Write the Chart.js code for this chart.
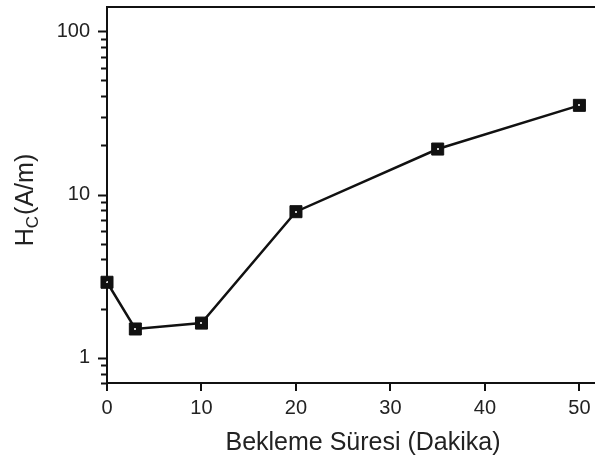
<!DOCTYPE html>
<html>
<head>
<meta charset="utf-8">
<script src="https://cdn.jsdelivr.net/npm/chart.js@4/dist/chart.umd.min.js"></script>
<style>
  html, body { margin: 0; padding: 0; background: #fff; }
  #wrap { width: 595px; height: 459px; }
</style>
</head>
<body>
<div id="wrap"><canvas id="hcChart" width="595" height="459"></canvas></div>
<script>
// bekleme suresi (dakika) vs Hc (A/m)
const times = [0, 3, 10, 20, 35, 50];
const hcValues = [2.9, 1.5, 1.63, 7.85, 19.0, 35.2];
const xTickLabels = [0, 10, 20, 30, 40, 50];
const yTickLabels = [1, 10, 100];

const FONT = '"Liberation Sans", Arial, sans-serif';
const INK = '#111';

// tick marks drawn from the scales, long for decades and short between
const tickMarks = {
  id: 'tickMarks',
  afterDraw(chart) {
    const ctx = chart.ctx;
    const xs = chart.scales.x, ys = chart.scales.y;
    const area = chart.chartArea;
    ctx.save();
    ctx.strokeStyle = INK;
    ctx.lineWidth = 2;
    ctx.beginPath();
    for (let d = 0.1; d <= 100; d *= 10) {
      for (let m = 1; m <= 9; m++) {
        const v = m * d;
        if (v < ys.min || v > ys.max) continue;
        const py = Math.round(ys.getPixelForValue(v)) + 0.5;
        const len = m === 1 ? 9 : 6;
        ctx.moveTo(area.left, py);
        ctx.lineTo(area.left - len, py);
      }
    }
    xTickLabels.forEach(v => {
      const px = Math.round(xs.getPixelForValue(v));
      ctx.moveTo(px, area.bottom);
      ctx.lineTo(px, area.bottom + 8);
    });
    ctx.stroke();

    // top frame line
    ctx.beginPath();
    ctx.moveTo(area.left - 1, area.top);
    ctx.lineTo(area.right, area.top);
    ctx.stroke();

    // axis titles
    ctx.fillStyle = '#222';
    ctx.font = '25px ' + FONT;
    ctx.textAlign = 'center';
    ctx.textBaseline = 'alphabetic';
    ctx.fillText('Bekleme Süresi (Dakika)', 363, 450);

    ctx.translate(33, 200);
    ctx.rotate(-Math.PI / 2);
    ctx.textAlign = 'left';
    const hW = ctx.measureText('H').width;
    ctx.font = '17px ' + FONT;
    const cW = ctx.measureText('C').width;
    ctx.font = '25px ' + FONT;
    const restW = ctx.measureText('(A/m)').width;
    const total = hW + cW + 1 + restW;
    const x0 = -total / 2;
    ctx.fillText('H', x0, 0);
    ctx.font = '17px ' + FONT;
    ctx.fillText('C', x0 + hW, 5);
    ctx.font = '25px ' + FONT;
    ctx.fillText('(A/m)', x0 + hW + cW + 1, 0);
    ctx.restore();
  }
};

// little light dot in the middle of each marker
const markerDots = {
  id: 'markerDots',
  afterDatasetsDraw(chart) {
    const ctx = chart.ctx;
    const meta = chart.getDatasetMeta(0);
    ctx.save();
    ctx.fillStyle = '#ccc';
    meta.data.forEach(pt => {
      ctx.fillRect(Math.round(pt.x) - 1, Math.round(pt.y) - 1, 2, 2);
    });
    ctx.restore();
  }
};

new Chart(document.getElementById('hcChart'), {
  type: 'line',
  data: {
    datasets: [{
      data: times.map((t, i) => ({ x: t, y: hcValues[i] })),
      borderColor: INK,
      backgroundColor: INK,
      borderWidth: 2.5,
      pointStyle: 'rect',
      pointRadius: 8.5,
      pointBackgroundColor: INK,
      pointBorderColor: INK,
      pointBorderWidth: 1,
      tension: 0,
      clip: false
    }]
  },
  options: {
    responsive: false,
    animation: false,
    events: [],
    layout: { autoPadding: false, padding: { top: 7, right: 0, left: 0, bottom: 0 } },
    plugins: { legend: { display: false }, tooltip: { enabled: false } },
    scales: {
      x: {
        type: 'linear',
        min: 0,
        max: 51.65,
        afterFit(scale) {
          scale.height = 76;
          scale.paddingLeft = 0;
          scale.paddingRight = 0;
        },
        afterBuildTicks(scale) {
          scale.ticks = xTickLabels.map(v => ({ value: v }));
        },
        grid: { display: false, drawTicks: false },
        border: { display: true, color: INK, width: 2 },
        ticks: {
          color: '#222',
          font: { family: FONT, size: 20 },
          padding: 13,
          maxRotation: 0,
          autoSkip: false
        }
      },
      y: {
        type: 'logarithmic',
        min: 0.724,
        max: 141,
        afterFit(scale) {
          scale.width = 107;
          scale.paddingTop = 0;
          scale.paddingBottom = 0;
        },
        afterBuildTicks(scale) {
          scale.ticks = yTickLabels.map(v => ({ value: v }));
        },
        grid: { display: false, drawTicks: false },
        border: { display: true, color: INK, width: 2 },
        ticks: {
          color: '#222',
          font: { family: FONT, size: 20 },
          padding: 17,
          autoSkip: false,
          callback: v => String(v)
        }
      }
    }
  },
  plugins: [tickMarks, markerDots]
});
</script>
</body>
</html>
